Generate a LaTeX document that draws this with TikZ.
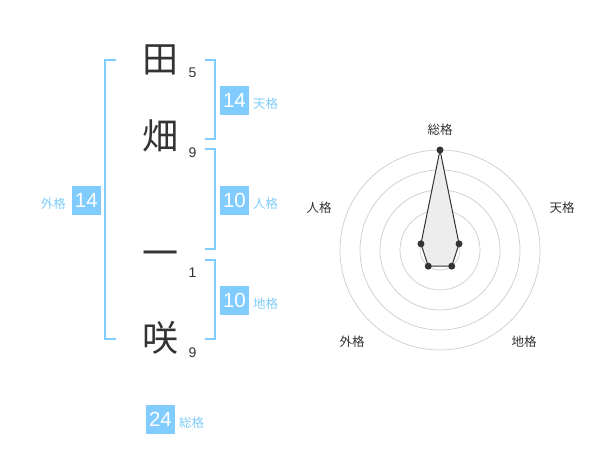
\documentclass[tikz,border=0pt]{standalone}
\usepackage{fontspec}
\usetikzlibrary{calc}
\setmainfont{Liberation Sans}
\newfontfamily\jp{Noto Sans CJK JP}
\definecolor{boxblue}{RGB}{128,204,255}
\definecolor{lblblue}{RGB}{128,204,250}
\definecolor{ink}{RGB}{51,51,51}
\definecolor{ring}{RGB}{204,204,204}
\begin{document}
\begin{tikzpicture}[x=1pt,y=-1pt,
  kanji/.style={inner sep=0pt,text=ink,font=\jp\fontsize{36}{36}\selectfont},
  strokes/.style={inner sep=0pt,text=ink,font=\fontsize{14}{14}\selectfont},
  valbox/.style={fill=boxblue,text=white,minimum width=29pt,minimum height=29pt,inner sep=0pt,font=\fontsize{20.5}{20.5}\selectfont},
  kaku/.style={inner sep=0pt,text=lblblue,font=\jp\fontsize{12.5}{12.5}\selectfont},
  bracket/.style={draw=boxblue,line width=2pt},
  axislbl/.style={inner sep=0pt,text=ink,font=\jp\fontsize{12.5}{12.5}\selectfont},
  ringline/.style={draw=ring,line width=0.7pt},
  pt/.style={circle,fill=ink,inner sep=0pt,minimum size=7pt}]
\useasboundingbox (0,0) rectangle (600,470);
% characters
\node[kanji] (c1) at (160,60) {田};
\node[kanji] (c2) at (160,136) {畑};
\node[kanji] (c3) at (160,259) {一};
\node[kanji] (c4) at (160,338) {咲};
\node[strokes] (s1) at (192.5,72.5) {5};
\node[strokes] (s2) at (192.5,153) {9};
\node[strokes] (s3) at (192.5,272.5) {1};
\node[strokes] (s4) at (192.5,352.5) {9};
% brackets
\draw[bracket] (116,60) -- (105,60) -- (105,339.5) -- (116,339.5);
\draw[bracket] (205,60) -- (214.5,60) -- (214.5,139.5) -- (205,139.5);
\draw[bracket] (205,149.5) -- (214.5,149.5) -- (214.5,249.5) -- (205,249.5);
\draw[bracket] (205,260) -- (214.5,260) -- (214.5,339.5) -- (205,339.5);
% value boxes
\node[valbox] (ten) at (234.5,100.3) {14};
\node[kaku,anchor=west] (tenl) at (253,103.5) {天格};
\node[valbox] (jin) at (234.5,200.3) {10};
\node[kaku,anchor=west] (jinl) at (253,203.5) {人格};
\node[valbox] (chi) at (234.5,300.3) {10};
\node[kaku,anchor=west] (chil) at (253,303.5) {地格};
\node[valbox] (gai) at (86.3,200.3) {14};
\node[kaku,anchor=east] (gail) at (66,203.5) {外格};
\node[valbox] (sou) at (160.5,419) {24};
\node[kaku,anchor=west] (soul) at (179,422.5) {総格};
% radar chart
\coordinate (o) at (440,250);
\foreach \r in {20,40,60,80,100} \draw[ringline] (o) circle[radius=\r];
\fill[ring] (o) circle[radius=3pt];
\coordinate (pS) at ($(o)+(-90:100)$);
\coordinate (pT) at ($(o)+(-18:20)$);
\coordinate (pC) at ($(o)+(54:20)$);
\coordinate (pG) at ($(o)+(126:20)$);
\coordinate (pJ) at ($(o)+(198:20)$);
\filldraw[fill=black!7,draw=ink,line width=1pt] (pS) -- (pT) -- (pC) -- (pG) -- (pJ) -- cycle;
\foreach \p in {pS,pT,pC,pG,pJ} \node[pt] at (\p) {};
\node[axislbl] (aS) at (440,130) {総格};
\node[axislbl] (aT) at (562,208) {天格};
\node[axislbl] (aJ) at (319,208) {人格};
\node[axislbl] (aG) at (352,342) {外格};
\node[axislbl] (aC) at (524,342) {地格};
\end{tikzpicture}
\end{document}
